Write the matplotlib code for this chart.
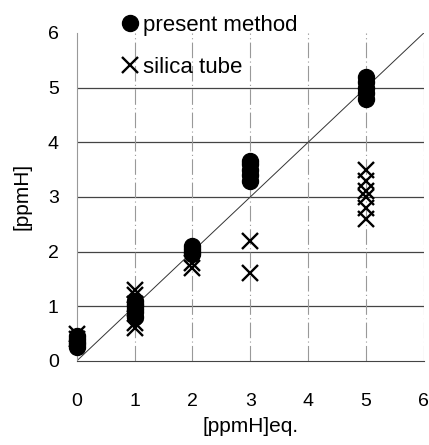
import matplotlib.pyplot as plt

plt.rcParams['font.family'] = ['Liberation Sans', 'DejaVu Sans']

# present method: (x, y) readings
present_x = [0, 0, 0, 0, 0, 1, 1, 1, 1, 1, 1, 2, 2, 2, 2, 3, 3, 3, 3, 3, 5, 5, 5, 5, 5]
present_y = [0.25, 0.3, 0.35, 0.4, 0.45, 0.8, 0.9, 0.95, 1.0, 1.05, 1.1,
             1.95, 2.0, 2.05, 2.1, 3.3, 3.4, 3.5, 3.6, 3.65, 4.8, 4.9, 5.0, 5.1, 5.2]

# silica tube
silica_x = [0, 0, 1, 1, 1, 1, 1, 2, 2, 3, 3, 5, 5, 5, 5, 5, 5]
silica_y = [0.4, 0.5, 1.3, 1.2, 1.05, 0.7, 0.6, 1.7, 1.8, 2.2, 1.6,
            3.5, 3.3, 3.1, 3.0, 2.8, 2.6]

ticks = [0, 1, 2, 3, 4, 5, 6]

fig = plt.figure(figsize=(4.29, 4.45), dpi=100)
ax = fig.add_axes([0.179, 0.189, 0.809, 0.737])

for t in [1, 2, 3, 4, 5]:
    ax.axhline(t, color='#444444', lw=0.9, zorder=1)
for t in [1, 2, 3, 4, 5, 6]:
    ax.axvline(t, color='#999999', lw=0.8, ls=(0, (14, 3, 1, 3)), zorder=1)

ax.plot([0, 6], [0, 6], color='#333333', lw=0.7, zorder=2)

ax.plot(present_x, present_y, 'o', color='black', ms=11.5, ls='none',
        label='present method', zorder=3, clip_on=False)
ax.plot(silica_x, silica_y, 'x', color='black', ms=12, mew=1.7, ls='none',
        label='silica tube', zorder=4, clip_on=False)

ax.set_xlim(0, 6)
ax.set_ylim(0, 6)
ax.set_xticks(ticks)
ax.set_yticks(ticks)
ax.tick_params(length=0, labelsize=14)
ax.tick_params(axis='x', pad=23)
ax.tick_params(axis='y', pad=13)

for s in ['top', 'right']:
    ax.spines[s].set_visible(False)
ax.spines['left'].set_color('#999999')
ax.spines['left'].set_linewidth(0.8)
ax.spines['bottom'].set_color('#444444')

ax.set_xlabel('[ppmH]eq.', fontsize=15, labelpad=5)
ax.set_ylabel('[ppmH]', fontsize=15, labelpad=12)

leg = ax.legend(loc='upper left', bbox_to_anchor=(0.127, 1.055), frameon=False,
                fontsize=16, handlelength=0.8, handletextpad=0.18,
                labelspacing=0.95, borderaxespad=0, borderpad=0)

fig.savefig('out.png', dpi=100)
